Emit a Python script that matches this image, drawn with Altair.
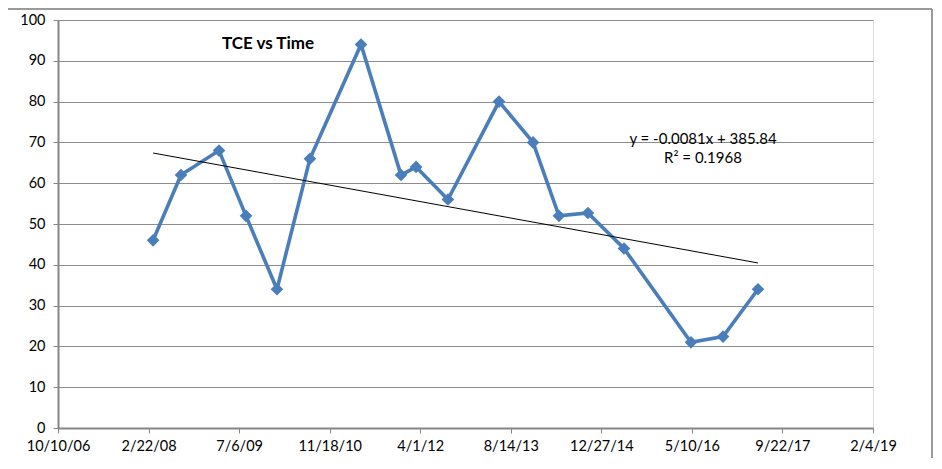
import altair as alt
import pandas as pd

# Excel date serial numbers (days since 1899-12-30)
dates = [39525, 39679, 39889, 40038, 40209, 40391, 40673, 40894, 40977,
         41153, 41435, 41623, 41766, 41926, 42125, 42495, 42672, 42865]
tce = [46, 62, 68, 52, 34, 66, 94, 62, 64, 56, 80, 70, 52, 52.7, 44, 21, 22.4, 34]
x_ticks = [39000, 39500, 40000, 40500, 41000, 41500, 42000, 42500, 43000, 43500]
y_ticks = list(range(0, 101, 10))
title_text = "TCE vs Time"
eq_lines = ["y = -0.0081x + 385.84", "R² = 0.1968"]

df = pd.DataFrame({"date": dates, "tce": tce})

FONT = "Lato"
W, H = 815, 408
BLUE = "#4A7EBB"

x_enc = alt.X("date:Q",
              scale=alt.Scale(domain=[x_ticks[0], x_ticks[-1]], nice=False, zero=False),
              axis=alt.Axis(values=x_ticks, title=None, grid=False,
                            labelExpr="utcFormat((datum.value - 25569) * 86400000, '%-m/%-d/%y')",
                            labelFontSize=14.5, labelColor="#000", labelFont=FONT, labelPadding=6,
                            domainColor="#868686", domainWidth=2, tickColor="#868686",
                            tickSize=5, labelFlush=False))
y_enc = alt.Y("tce:Q",
              scale=alt.Scale(domain=[0, 100], nice=False),
              axis=alt.Axis(values=y_ticks, title=None, grid=True, gridColor="#8C8C8C",
                            gridWidth=1, labelFontSize=14.5, labelColor="#000", labelFont=FONT,
                            labelPadding=8, domainColor="#868686", domainWidth=2,
                            tickColor="#868686", tickSize=5))

base = alt.Chart(df)

line = base.mark_line(color=BLUE, strokeWidth=3.6).encode(x=x_enc, y=y_enc)
pts = base.mark_point(shape="diamond", filled=True, color=BLUE, size=160, opacity=1).encode(
    x="date:Q", y="tce:Q")
trend = base.transform_regression("date", "tce").mark_line(
    color="#000", strokeWidth=1).encode(x="date:Q", y="tce:Q")

one = pd.DataFrame({"a": [0]})

title = alt.Chart(one).mark_text(
    font=FONT, fontSize=17, fontWeight="bold", color="#000", text=title_text).encode(
    x=alt.value(210), y=alt.value(24))

eq1 = alt.Chart(one).mark_text(font=FONT, fontSize=15, color="#000", text=eq_lines[0]).encode(
    x=alt.value(645), y=alt.value(119))
eq2 = alt.Chart(one).mark_text(font=FONT, fontSize=15, color="#000", text=eq_lines[1]).encode(
    x=alt.value(645), y=alt.value(138))

border_top = alt.Chart(one).mark_rule(color="#9A9A9A", strokeWidth=2).encode(
    x=alt.value(-50), x2=alt.value(874), y=alt.value(-11))
border_right = alt.Chart(one).mark_rule(color="#9A9A9A", strokeWidth=2).encode(
    x=alt.value(874), y=alt.value(-11), y2=alt.value(438))

chart = alt.layer(border_top, border_right, line, trend, pts, title, eq1, eq2).properties(
    width=W, height=H,
    autosize=alt.AutoSizeParams(type="none"),
    padding={"left": 50, "top": 12, "right": 60, "bottom": 30},
).configure_view(stroke=None).configure(background="white")

chart.save("out.html", embed_options={"renderer": "svg", "actions": False})
